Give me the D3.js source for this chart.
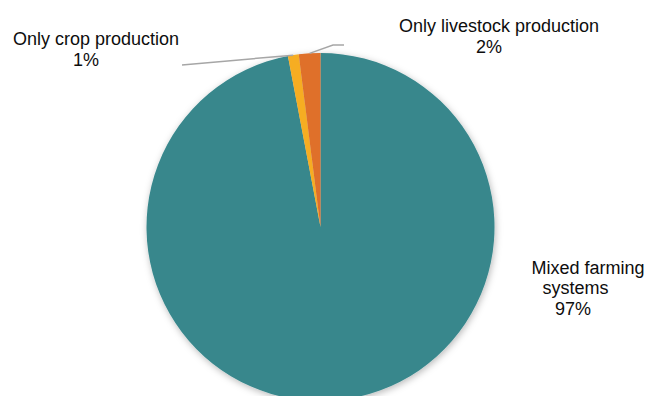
<!DOCTYPE html>
<html>
<head>
<meta charset="utf-8">
<script src="https://cdn.jsdelivr.net/npm/d3@7"></script>
<style>
html,body{margin:0;padding:0;background:#fff;}
svg{display:block;}
text{font-family:"Liberation Sans",Arial,sans-serif;font-size:18px;fill:#0d0d0d;}
</style>
</head>
<body>
<svg id="chart" width="645" height="396"></svg>
<script>
const categories = ["Mixed farming systems", "Only crop production", "Only livestock production"];
const values = [97, 1, 2];
const labelLines = [["Mixed farming", "systems", "97%"], ["Only crop production", "1%"], ["Only livestock production", "2%"]];
const colors = ["#38878c", "#f6ad22", "#df6f29"];

const W = 645, H = 396;
const cx = 320.5, cy = 227, R = 174;
const svg = d3.select("#chart");

const defs = svg.append("defs");
const f = defs.append("filter").attr("id", "shadow").attr("x", "-20%").attr("y", "-20%").attr("width", "140%").attr("height", "140%");
f.append("feDropShadow").attr("dx", 1).attr("dy", 2).attr("stdDeviation", 3.5).attr("flood-color", "#000").attr("flood-opacity", 0.28);

const pie = d3.pie().sort(null).value(d => d.v);
const arcs = pie(categories.map((c, i) => ({c, v: values[i], i})));
const arc = d3.arc().innerRadius(0).outerRadius(R);

const g = svg.append("g").attr("transform", `translate(${cx},${cy})`);
g.append("g").attr("filter", "url(#shadow)")
  .selectAll("path").data(arcs).join("path")
  .attr("d", arc)
  .attr("fill", d => colors[d.data.i]);

// label line centres and baselines
const labelX = [[588, 575.5, 573], [96, 86], [499, 489]];
const labelY = [274, 45, 31.5];
const lh = [20.3, 21, 21];
const leaders = [
  null,
  [[182, 65]],
  [[333, 45], [344, 45]]
];

arcs.forEach((d, i) => {
  if (!leaders[i]) return;
  const a = (d.startAngle + d.endAngle) / 2;
  const p0 = [cx + R * Math.sin(a), cy - R * Math.cos(a)];
  const pts = i === 1 ? [leaders[i][0], p0] : [p0, ...leaders[i]];
  svg.append("path")
    .attr("d", d3.line()(pts))
    .attr("fill", "none")
    .attr("stroke", "#a6a6a6")
    .attr("stroke-width", 1.5);
});

labelLines.forEach((lines, i) => {
  const t = svg.append("text").attr("text-anchor", "middle");
  lines.forEach((s, k) => {
    t.append("tspan").attr("x", labelX[i][k]).attr("y", labelY[i] + k * lh[i]).text(s);
  });
});
</script>
</body>
</html>
